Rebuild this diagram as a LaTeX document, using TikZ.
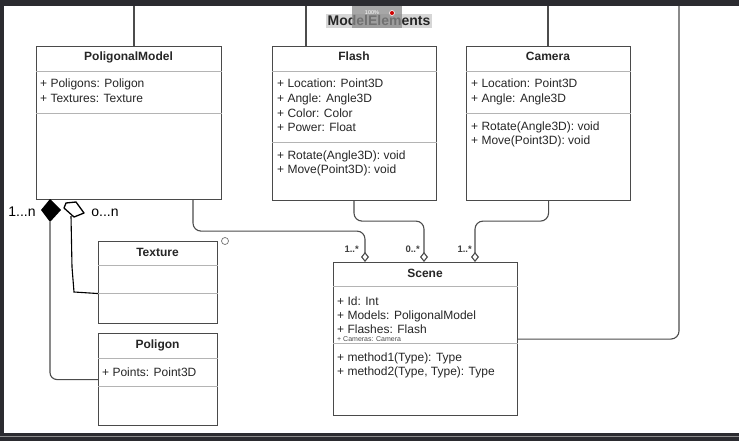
\documentclass[tikz,border=0pt]{standalone}
\usepackage{fontspec}
\setmainfont{Liberation Sans}
\usetikzlibrary{arrows.meta,calc}
\definecolor{framec}{HTML}{2B2B30}
\definecolor{boxc}{HTML}{4A4A4A}
\definecolor{sepc}{HTML}{B4B4B4}
\definecolor{connc}{HTML}{4C4C4C}
\definecolor{hilite}{HTML}{D6D6D6}
\definecolor{overc}{HTML}{8A8A8A}
\definecolor{txtc}{HTML}{262626}
\begin{document}
\begin{tikzpicture}[x=1pt,y=-1pt,
 classbox/.style={draw=boxc, line width=1.1pt, fill=white, anchor=north west, inner sep=0pt, rectangle},
 sepline/.style={draw=sepc, line width=0.9pt},
 cname/.style={font=\bfseries\fontsize{12}{14}\selectfont, text=txtc, inner sep=0pt, anchor=base},
 attr/.style={font=\fontsize{12}{14}\selectfont, text=txtc, inner sep=0pt, anchor=base west},
 tinyattr/.style={font=\fontsize{7}{8}\selectfont, inner sep=0pt, anchor=base west, text=black!70},
 conn/.style={draw=connc, line width=1.1pt, rounded corners=8pt},
 agg/.style={conn, -{Diamond[open, length=10pt, width=8pt, line width=1.1pt]}},
 mult/.style={font=\bfseries\fontsize{9.5}{10}\selectfont, text=black!75, inner sep=0pt, anchor=base east},
 hand/.style={draw=black, line width=1.3pt, line join=round, line cap=round},
 handtext/.style={font=\fontsize{14}{16}\selectfont, inner sep=0pt, anchor=base}
]
\useasboundingbox (0,0) rectangle (739,441);
\fill[white] (0,0) rectangle (739,441);
% screen frame
\fill[framec] (0,0) rectangle (739,6);
\fill[framec] (0,0) rectangle (4,441);
\fill[framec] (0,433) rectangle (739,435.5);
\fill[black!45] (0,435.5) rectangle (739,437);
\fill[framec] (0,437) rectangle (739,441);

% title
\fill[hilite] (326,14) rectangle (432,28);
\node[font=\bfseries\fontsize{14}{16}\selectfont, text=txtc, inner sep=0pt, anchor=base] (title) at (379,26) {ModelElements};
\fill[overc, opacity=0.75] (352,6) rectangle (402,28);
\node[font=\fontsize{5.5}{6}\selectfont, text=white, inner sep=0pt, anchor=base] (zoomtxt) at (372,14.5) {100\%};
\node[circle, draw=white, fill=red!80!black, inner sep=0pt, minimum size=5pt, line width=0.6pt] (zoomdot) at (392,13) {};

% coordinates for connector x positions
\coordinate (c134) at (134,6);
\coordinate (c306) at (306,6);
\coordinate (c548) at (548,6);
\coordinate (c679) at (679,6);
\coordinate (c193) at (193,0);
\coordinate (c354) at (354,0);
\coordinate (c365) at (365,0);
\coordinate (c424) at (424,0);
\coordinate (c475) at (475,0);

% PoligonalModel
\node[classbox, minimum width=185pt, minimum height=153pt] (pm) at (36,46) {};
\draw[sepline] ([yshift=-25pt]pm.north west) -- ([yshift=-25pt]pm.north east);
\draw[sepline] ([yshift=-67pt]pm.north west) -- ([yshift=-67pt]pm.north east);
\node[cname] (pmt) at (128.5,61) {PoligonalModel};
\node[attr] (pma1) at (40,88) {+ Poligons: Poligon};
\node[attr] (pma2) at (40,103) {+ Textures: Texture};

% Flash
\node[classbox, minimum width=164pt, minimum height=154pt] (fl) at (272,46) {};
\draw[sepline] ([yshift=-25pt]fl.north west) -- ([yshift=-25pt]fl.north east);
\draw[sepline] ([yshift=-96pt]fl.north west) -- ([yshift=-96pt]fl.north east);
\node[cname] (flt) at (354,61) {Flash};
\node[attr] (fla1) at (277,88) {+ Location: Point3D};
\node[attr] (fla2) at (277,103) {+ Angle: Angle3D};
\node[attr] (fla3) at (277,117.5) {+ Color: Color};
\node[attr] (fla4) at (277,132) {+ Power: Float};
\node[attr] (flm1) at (277,160) {+ Rotate(Angle3D): void};
\node[attr] (flm2) at (277,174) {+ Move(Point3D): void};

% Camera
\node[classbox, minimum width=164pt, minimum height=154pt] (ca) at (466,46) {};
\draw[sepline] ([yshift=-25pt]ca.north west) -- ([yshift=-25pt]ca.north east);
\draw[sepline] ([yshift=-67pt]ca.north west) -- ([yshift=-67pt]ca.north east);
\node[cname] (cat) at (548,61) {Camera};
\node[attr] (caa1) at (471,88) {+ Location: Point3D};
\node[attr] (caa2) at (471,103) {+ Angle: Angle3D};
\node[attr] (cam1) at (471,131) {+ Rotate(Angle3D): void};
\node[attr] (cam2) at (471,145) {+ Move(Point3D): void};

% Texture
\node[classbox, minimum width=119pt, minimum height=82pt] (tx) at (98,241) {};
\draw[sepline] ([yshift=-24pt]tx.north west) -- ([yshift=-24pt]tx.north east);
\draw[sepline] ([yshift=-52pt]tx.north west) -- ([yshift=-52pt]tx.north east);
\node[cname] (txt) at (157.5,256) {Texture};

% Poligon
\node[classbox, minimum width=119pt, minimum height=92pt] (po) at (98,333) {};
\draw[sepline] ([yshift=-25pt]po.north west) -- ([yshift=-25pt]po.north east);
\draw[sepline] ([yshift=-53pt]po.north west) -- ([yshift=-53pt]po.north east);
\node[cname] (pot) at (157.5,348) {Poligon};
\node[attr] (poa1) at (102,376) {+ Points: Point3D};

% Scene
\node[classbox, minimum width=184pt, minimum height=153pt] (sc) at (333,262) {};
\draw[sepline] ([yshift=-24pt]sc.north west) -- ([yshift=-24pt]sc.north east);
\draw[sepline] ([yshift=-81pt]sc.north west) -- ([yshift=-81pt]sc.north east);
\node[cname] (sct) at (425,277) {Scene};
\node[attr] (sca1) at (337,305) {+ Id: Int};
\node[attr] (sca2) at (337,319) {+ Models: PoligonalModel};
\node[attr] (sca3) at (337,333) {+ Flashes: Flash};
\node[tinyattr] (sca4) at (337,341) {+ Cameras: Camera};
\node[attr] (scm1) at (337,361) {+ method1(Type): Type};
\node[attr] (scm2) at (337,375) {+ method2(Type, Type): Type};

% lines from the top
\draw[conn] (c134) -- (c134 |- pm.north);
\draw[conn] (c306) -- (c306 |- fl.north);
\draw[conn] (c548) -- (c548 |- ca.north);
\draw[conn] (c679) |- (sc.east);

% aggregations into Scene
\draw[agg] (pm.south -| c193) -- ++(0,31) -| (sc.north -| c365);
\draw[agg] (fl.south -| c354) -- ++(0,20) -| (sc.north -| c424);
\draw[agg] (ca.south) -- ++(0,20) -| (sc.north -| c475);
\node[mult] (m1) at (359,252) {1..*};
\node[mult] (m2) at (420,252) {0..*};
\node[mult] (m3) at (472,252) {1..*};

% hand-drawn composition / aggregation
\coordinate (fdc) at (50,210);
\fill[black] (50,199) -- (61,210) -- (50,222) -- (41,210) -- cycle;
\coordinate (fdb) at (50,222);
\draw[conn, rounded corners=7pt] (fdb) |- (po.west);
\draw[hand] (66,203) -- (76,202) -- (84,213) -- (74,217) -- (64,208) -- cycle;
\coordinate (odb) at (71,216);
\draw[draw=black, line width=1.1pt] (odb) -- (72,267) -- (74,292) -- ([yshift=-11pt]tx.west);
\node[handtext] (h1) at (22,216) {1...n};
\node[handtext] (h2) at (105,216) {o...n};
\draw[black!55, line width=0.7pt] (225,241) circle (3.5);
\end{tikzpicture}
\end{document}
